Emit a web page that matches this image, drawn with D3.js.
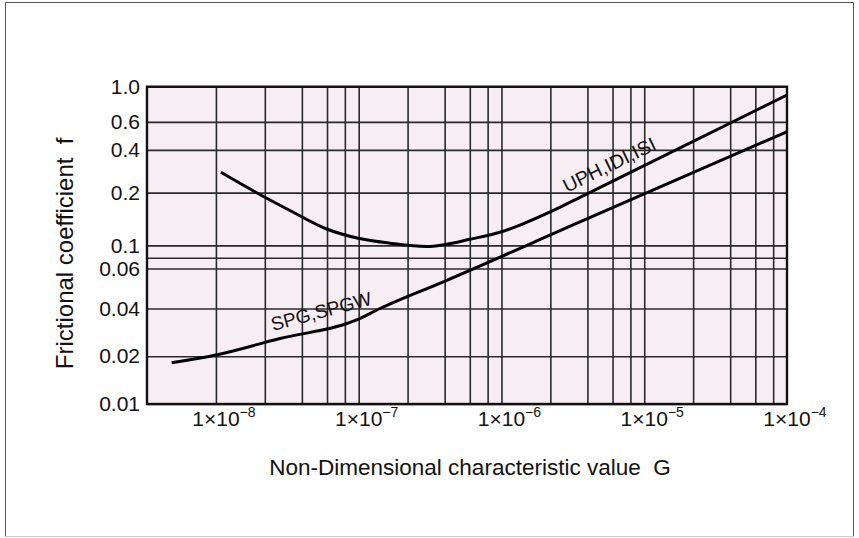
<!DOCTYPE html>
<html>
<head>
<meta charset="utf-8">
<script src="https://cdn.jsdelivr.net/npm/d3@7"></script>
<style>
  html, body { margin: 0; padding: 0; background: #ffffff; }
  svg { display: block; font-family: "Liberation Sans", Arial, Helvetica, sans-serif; }
</style>
</head>
<body>
<svg id="chart" width="859" height="538"></svg>
<script>
// ---------- data ----------
const xDecades = [1e-8, 1e-7, 1e-6, 1e-5, 1e-4];
const xDecadeExponents = ["\u22128", "\u22127", "\u22126", "\u22125", "\u22124"];
const xGridMultipliers = [1, 2.2, 4, 6, 8];

const yTickValues = [1, 0.6, 0.4, 0.215, 0.1, 0.0714, 0.04, 0.02, 0.01];
const yTickLabels = ["1.0", "0.6", "0.4", "0.2", "0.1", "0.06", "0.04", "0.02", "0.01"];
const yExtraGrid = [0.0836];

// UPH, IDI, ISI
const upperG = [1.084e-8, 1.928e-8, 3.299e-8, 5.965e-8, 9.93e-8, 1.655e-7, 2.992e-7, 3.955e-7, 6.015e-7, 1.003e-6, 1.348e-6, 2.212e-6, 3.547e-6, 1e-4];
const upperF = [0.2886, 0.2147, 0.1659, 0.1268, 0.1108, 0.1032, 0.09835, 0.1009, 0.1092, 0.1219, 0.1343, 0.1630, 0.2009, 0.8865];

// SPG, SPGW
const lowerG = [4.894e-9, 1e-8, 2.808e-8, 9.67e-8, 1.409e-7, 3.955e-7, 3.547e-6, 1e-4];
const lowerF = [0.01821, 0.02037, 0.02588, 0.03385, 0.03999, 0.05917, 0.1404, 0.5204];

const seriesLabels = ["UPH,IDI,ISI", "SPG,SPGW"];
const xTitle = "Non-Dimensional characteristic value\u00a0\u00a0G";
const yTitle = "Frictional coefficient\u00a0\u00a0f";

// ---------- layout ----------
const plot = { left: 147, right: 787, top: 86.7, bottom: 404 };
const ink = "#111";
const gridColor = "#2a2a2a";
const bg = "#f7eef4";

const svg = d3.select("#chart");

// outer frame
svg.append("line").attr("x1", 5.5).attr("x2", 853.5).attr("y1", 2.5).attr("y2", 2.5).attr("stroke", "#555").attr("stroke-width", 1);
svg.append("line").attr("x1", 5.5).attr("x2", 5.5).attr("y1", 2.5).attr("y2", 536.5).attr("stroke", "#555").attr("stroke-width", 1);
svg.append("line").attr("x1", 853.5).attr("x2", 853.5).attr("y1", 2.5).attr("y2", 536.5).attr("stroke", "#555").attr("stroke-width", 1);
svg.append("line").attr("x1", 5.5).attr("x2", 853.5).attr("y1", 536.5).attr("y2", 536.5).attr("stroke", "#ccc").attr("stroke-width", 1);

// scales
const x = d3.scaleLog().domain([3.29e-9, 1e-4]).range([plot.left, plot.right]);
const y = d3.scaleLog().domain([0.01, 1]).range([plot.bottom, plot.top]);

// plot background
svg.append("rect")
  .attr("x", plot.left).attr("y", plot.top)
  .attr("width", plot.right - plot.left).attr("height", plot.bottom - plot.top)
  .attr("fill", bg);

// vertical grid via axis
const xGridValues = d3.merge(xDecades.slice(0, 4).map(d => xGridMultipliers.map(m => m * d)));
const xGrid = svg.append("g")
  .attr("transform", `translate(0,${plot.bottom})`)
  .call(d3.axisBottom(x).tickValues(xGridValues).tickSize(-(plot.bottom - plot.top)).tickFormat(""));
xGrid.select(".domain").remove();
xGrid.selectAll("line").attr("stroke", gridColor).attr("stroke-width", 1.6);

// horizontal grid + labels via axis
const yAxis = svg.append("g")
  .attr("transform", `translate(${plot.left},0)`)
  .call(d3.axisLeft(y)
    .tickValues(yTickValues.concat(yExtraGrid))
    .tickSize(-(plot.right - plot.left))
    .tickPadding(7)
    .tickFormat(d => { const i = yTickValues.indexOf(d); return i >= 0 ? yTickLabels[i] : ""; }));
yAxis.select(".domain").remove();
yAxis.selectAll("line").attr("stroke", gridColor).attr("stroke-width", 1.6);
yAxis.selectAll("text")
  .attr("fill", ink)
  .style("font-family", "'Liberation Sans', Arial, sans-serif")
  .style("font-size", "21px");

// plot frame
svg.append("rect")
  .attr("x", plot.left).attr("y", plot.top)
  .attr("width", plot.right - plot.left).attr("height", plot.bottom - plot.top)
  .attr("fill", "none").attr("stroke", "#111").attr("stroke-width", 2.4);

// x tick labels  1×10^-n
xDecades.forEach((d, i) => {
  const t = svg.append("text")
    .attr("y", 426)
    .attr("fill", ink)
    .style("font-size", "21px");
  t.append("tspan").text("1\u00d710");
  t.append("tspan").attr("dy", -9).style("font-size", "14px").text(xDecadeExponents[i]);
  const baseW = t.node().getSubStringLength(0, 4);
  t.attr("x", x(d) - baseW / 2);
});

// curves
const line = d3.line()
  .x(p => x(p[0]))
  .y(p => y(p[1]))
  .curve(d3.curveMonotoneX);

svg.append("clipPath").attr("id", "plotclip").append("rect")
  .attr("x", plot.left - 2).attr("y", plot.top - 3)
  .attr("width", plot.right - plot.left + 4).attr("height", plot.bottom - plot.top + 6);

svg.append("path")
  .datum(d3.zip(upperG, upperF))
  .attr("d", line)
  .attr("fill", "none").attr("stroke", "#000").attr("stroke-width", 3)
  .attr("clip-path", "url(#plotclip)");

svg.append("path")
  .datum(d3.zip(lowerG, lowerF))
  .attr("d", line)
  .attr("fill", "none").attr("stroke", "#000").attr("stroke-width", 3)
  .attr("clip-path", "url(#plotclip)");

// curve labels
svg.append("text")
  .attr("transform", `translate(${x(2.876e-6)},${y(0.2138)}) rotate(-26)`)
  .attr("fill", ink).style("font-size", "19.5px")
  .text(seriesLabels[0]);

svg.append("text")
  .attr("transform", `translate(${x(2.507e-8)},${y(0.02884)}) rotate(-15)`)
  .attr("fill", ink).style("font-size", "19px")
  .text(seriesLabels[1]);

// axis titles
svg.append("text")
  .attr("x", (plot.left + plot.right) / 2 + 3)
  .attr("y", 475)
  .attr("text-anchor", "middle")
  .attr("fill", ink).style("font-size", "22.5px")
  .text(xTitle);

svg.append("text")
  .attr("transform", `translate(73,${(plot.top + plot.bottom) / 2 + 8}) rotate(-90)`)
  .attr("text-anchor", "middle")
  .attr("fill", ink).style("font-size", "24px")
  .text(yTitle);
</script>
</body>
</html>
